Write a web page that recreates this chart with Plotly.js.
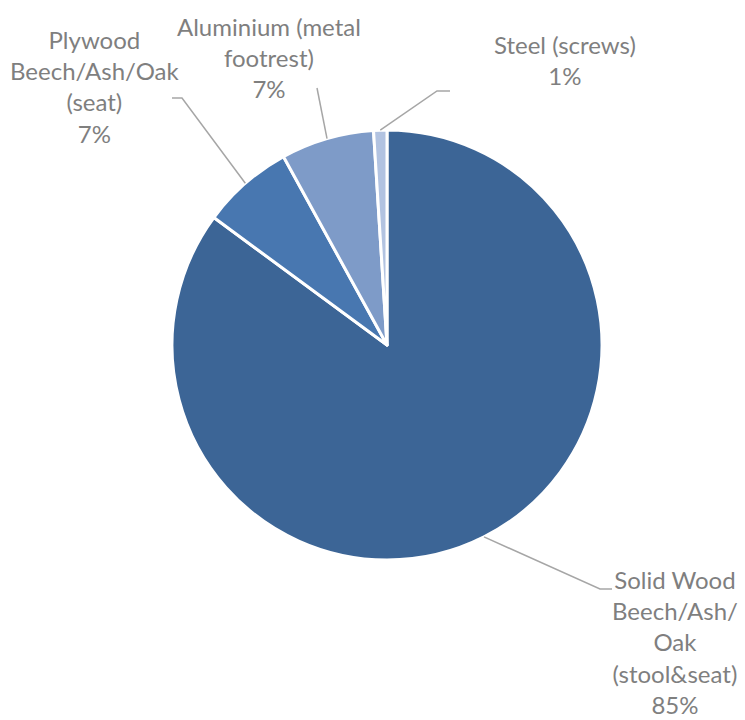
<!DOCTYPE html>
<html>
<head>
<meta charset="utf-8">
<script src="https://cdn.plot.ly/plotly-3.0.1.min.js"></script>
<style>html,body{margin:0;padding:0;background:#fff;}#chart{width:745px;height:720px;}</style>
</head>
<body>
<div id="chart"></div>
<script>
// Data
const materials = [
  "Solid Wood<br>Beech/Ash/<br>Oak<br>(stool&seat)",
  "Plywood<br>Beech/Ash/Oak<br>(seat)",
  "Aluminium (metal<br>footrest)",
  "Steel (screws)"
];
const shares = [85.1, 6.9, 7.0, 1.0];
const colors = ["#3C6596", "#4877B0", "#7E9BC8", "#B2C3E1"];

// Layout helpers (pixels)
const W = 745, H = 720;
const cx = 387, cy = 345, R = 215;
// label centers (first line) and leader elbow points
const labelPos = [
  {x: 675, y: 580},
  {x: 95,  y: 40},
  {x: 269, y: 27},
  {x: 565, y: 45}
];
const elbows = [
  [[600, 589], [612, 589]],
  [[182, 98], [172, 98]],
  [[317, 88]],
  [[437, 91], [450, 91]]
];

const px = x => x / W;
const py = y => 1 - y / H;

const total = shares.reduce((a, b) => a + b, 0);
const shapes = [];
const annotations = [];
let cum = 0;
shares.forEach((v, i) => {
  const mid = (cum + v / 2) / total * 2 * Math.PI;
  cum += v;
  const ex = cx + R * Math.sin(mid);
  const ey = cy - R * Math.cos(mid);
  let path = `M${px(ex)},${py(ey)}`;
  elbows[i].forEach(p => { path += ` L${px(p[0])},${py(p[1])}`; });
  shapes.push({type: "path", xref: "paper", yref: "paper", path: path,
    line: {color: "#A6A6A6", width: 1.5}});
  const pct = Math.round(v / total * 100) + "%";
  annotations.push({
    xref: "paper", yref: "paper", x: px(labelPos[i].x), y: py(labelPos[i].y - 17),
    xanchor: "center", yanchor: "top", align: "center", showarrow: false,
    text: materials[i] + "<br>" + pct,
    font: {family: "Lato, 'Open Sans', sans-serif", size: 24, color: "#7F7F7F"}
  });
});

const trace = {
  type: "pie",
  labels: materials,
  values: shares,
  sort: false,
  direction: "clockwise",
  rotation: 0,
  textinfo: "none",
  hoverinfo: "label+percent",
  marker: {colors: colors, line: {color: "#FFFFFF", width: 3}},
  domain: {x: [px(cx - R), px(cx + R)], y: [py(cy + R), py(cy - R)]},
  showlegend: false
};

const layout = {
  width: W, height: H,
  margin: {l: 0, r: 0, t: 0, b: 0},
  paper_bgcolor: "#FFFFFF",
  showlegend: false,
  shapes: shapes,
  annotations: annotations
};

Plotly.newPlot("chart", [trace], layout, {displayModeBar: false, staticPlot: true});
</script>
</body>
</html>
